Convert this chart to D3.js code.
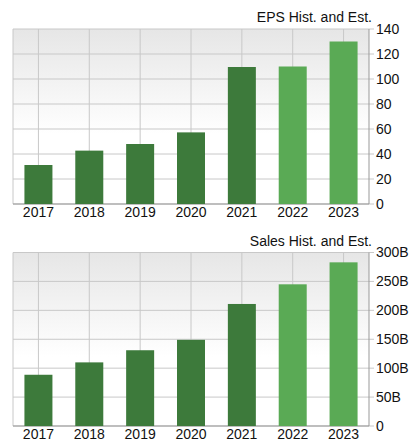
<!DOCTYPE html><html><head><meta charset="utf-8">
<script src="https://cdn.jsdelivr.net/npm/d3@7"></script>
<style>body{margin:0;background:#fff}text{font-family:"Liberation Sans",Arial,sans-serif;font-size:14px;fill:#111}</style></head><body>
<svg id="c" width="419" height="441"></svg>
<script>
const years=["2017","2018","2019","2020","2021","2022","2023"];
const eps=[31.2,42.7,48,57.3,109.6,110,130];
const sales=[88.6,110,131,149,211,245,283];
const estimated=[false,false,false,false,false,true,true];
const epsTicks=[0,20,40,60,80,100,120,140];
const salesTicks=[0,50,100,150,200,250,300];
const svg=d3.select("#c");
const defs=svg.append("defs");
const g=defs.append("linearGradient").attr("id","bg").attr("x1",0).attr("y1",0).attr("x2",0).attr("y2",1);
g.append("stop").attr("offset","0").attr("stop-color","#e6e6e6");
g.append("stop").attr("offset","0.6").attr("stop-color","#ffffff");
function panel(top,bottom,title,vals,ticks,max,fmt){
  const L=13,R=369;
  const step=(R-L)/7;
  const xc=d3.scalePoint().domain(years).range([L+step/2,R-step/2]);
  const y=d3.scaleLinear().domain([0,max]).range([bottom,top]);
  const s=svg.append("g");
  s.append("rect").attr("x",L).attr("y",top).attr("width",R-L).attr("height",bottom-top).attr("fill","url(#bg)");
  s.selectAll(".h").data(ticks).join("line").attr("x1",L).attr("x2",R+5).attr("y1",d=>y(d)).attr("y2",d=>y(d)).attr("stroke","#c8c8c8");
  s.selectAll(".v").data(years).join("line").attr("x1",d=>xc(d)).attr("x2",d=>xc(d)).attr("y1",top).attr("y2",bottom).attr("stroke","#c8c8c8");
  s.append("line").attr("x1",L).attr("x2",L).attr("y1",top).attr("y2",bottom).attr("stroke","#c8c8c8");
  s.append("line").attr("x1",R).attr("x2",R).attr("y1",top).attr("y2",bottom).attr("stroke","#999");
  s.append("line").attr("x1",L).attr("x2",R).attr("y1",bottom).attr("y2",bottom).attr("stroke","#999");
  const bw=28;
  s.selectAll(".b").data(vals).join("rect").attr("x",(d,i)=>xc(years[i])-bw/2).attr("width",bw)
   .attr("y",d=>y(d)).attr("height",d=>bottom-y(d)).attr("fill",(d,i)=>estimated[i]?"#5aaa55":"#3d7a3b");
  s.selectAll(".yl").data(ticks).join("text").attr("x",R+7).attr("y",d=>y(d)).attr("dy","0.35em").text(fmt);
  s.selectAll(".xl").data(years).join("text").attr("x",d=>xc(d)).attr("y",bottom+13).attr("text-anchor","middle").text(d=>d);
  s.append("text").attr("x",372).attr("y",top-7).attr("text-anchor","end").text(title);
}
panel(29,204,"EPS Hist. and Est.",eps,epsTicks,140,d=>d);
panel(252.5,426,"Sales Hist. and Est.",sales,salesTicks,300,d=>d===0?"0":d+"B");
</script></body></html>
